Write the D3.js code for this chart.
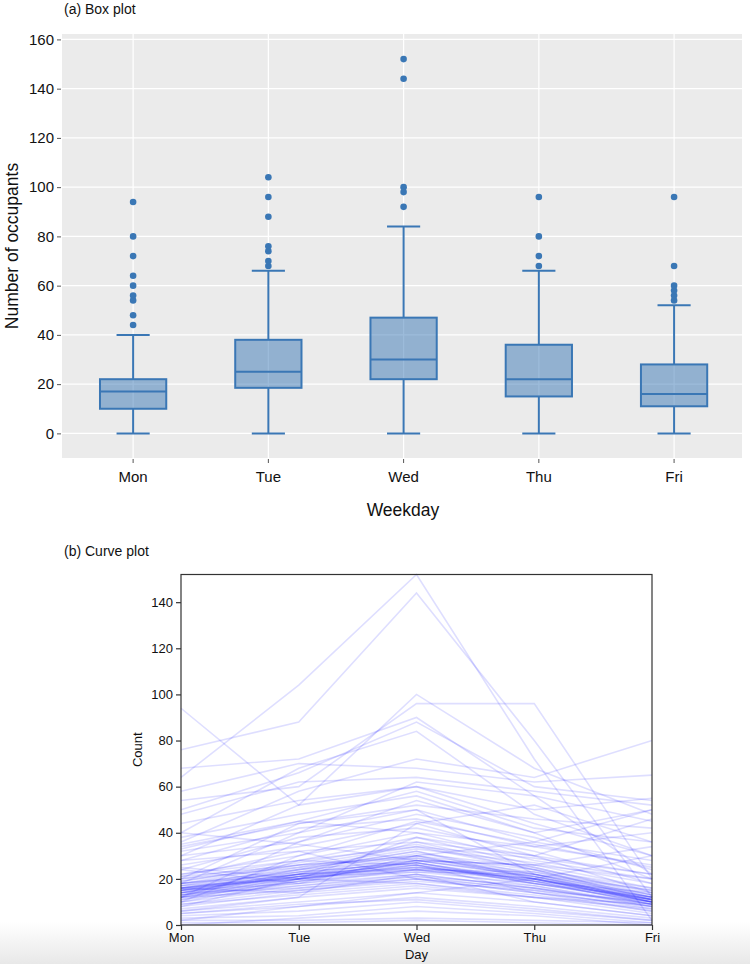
<!DOCTYPE html>
<html>
<head>
<meta charset="utf-8">
<script src="https://cdn.jsdelivr.net/npm/d3@7"></script>
<style>
html,body{margin:0;padding:0;background:#fff;}
svg{display:block;font-family:"Liberation Sans",Arial,Helvetica,sans-serif;}
</style>
</head>
<body>
<svg id="chart" width="750" height="964"></svg>
<script>
// ---------- DATA ----------
const days = ["Mon", "Tue", "Wed", "Thu", "Fri"];

// Box plot statistics
const boxQ1      = [10, 18.5, 22, 15, 11];
const boxMedian  = [17, 25, 30, 22, 16];
const boxQ3      = [22, 38, 47, 36, 28];
const whiskerLow = [0, 0, 0, 0, 0];
const whiskerHigh= [40, 66, 84, 66, 52];
const outliers = [
  [44, 48, 54, 56, 60, 64, 72, 80, 94],
  [68, 70, 74, 76, 88, 96, 104],
  [92, 98, 100, 144, 152],
  [68, 72, 80, 96],
  [54, 56, 58, 60, 68, 96]
];
const boxYTicks = [0, 20, 40, 60, 80, 100, 120, 140, 160];

// Daily counts per occupant series for panel (b): [Mon, Tue, Wed, Thu, Fri]
const dailyCounts = [
  [64, 104, 152, 72, 2],
  [76, 88, 144, 80, 12],
  [94, 52, 100, 68, 48],
  [54, 60, 96, 96, 20],
  [68, 72, 90, 56, 45],
  [50, 66, 88, 60, 54],
  [40, 68, 84, 48, 30],
  [36, 58, 72, 64, 80],
  [58, 70, 68, 62, 65],
  [48, 62, 64, 58, 52],
  [44, 54, 60, 50, 55],
  [35, 45, 58, 42, 36],
  [38, 48, 56, 40, 50],
  [34, 44, 52, 46, 42],
  [32, 40, 50, 36, 28],
  [30, 36, 48, 38, 24],
  [28, 42, 46, 34, 40],
  [26, 34, 44, 30, 22],
  [24, 38, 42, 32, 18],
  [22, 30, 40, 28, 20],
  [20, 28, 38, 26, 16],
  [21, 32, 36, 30, 14],
  [19, 26, 34, 24, 12],
  [18, 24, 32, 22, 15],
  [17, 25, 30, 20, 11],
  [16, 22, 28, 21, 10],
  [15, 21, 27, 19, 9],
  [14, 20, 26, 18, 10],
  [13, 22, 25, 20, 12],
  [12, 18, 24, 17, 8],
  [11, 17, 22, 16, 9],
  [10, 16, 21, 15, 7],
  [9, 15, 20, 14, 8],
  [8, 14, 18, 13, 6],
  [7, 12, 16, 12, 5],
  [6, 10, 14, 10, 4],
  [5, 8, 12, 8, 3],
  [4, 6, 10, 6, 2],
  [3, 4, 8, 5, 1],
  [2, 2, 3, 2, 1],
  [1, 1, 2, 1, 0],
  [0, 3, 6, 4, 0],
  [15, 24, 28, 22, 13],
  [14, 22, 30, 24, 11],
  [16, 20, 26, 18, 12],
  [13, 19, 24, 20, 10],
  [12, 21, 27, 19, 14],
  [18, 26, 29, 23, 15],
  [17, 23, 31, 25, 13],
  [15, 18, 22, 16, 9],
  [11, 20, 25, 21, 11],
  [20, 25, 33, 27, 18],
  [19, 27, 35, 24, 16],
  [14, 16, 20, 14, 8],
  [12, 15, 19, 15, 10],
  [16, 21, 23, 22, 12],
  [10, 19, 28, 26, 20],
  [18, 22, 26, 19, 11],
  [13, 17, 21, 17, 9],
  [17, 20, 24, 23, 13],
  [21, 26, 30, 21, 12],
  [14, 23, 27, 18, 10],
  [9, 13, 17, 12, 7],
  [22, 28, 34, 29, 22],
  [16, 24, 32, 20, 11],
  [15, 22, 36, 25, 14],
  [33, 45, 40, 34, 26],
  [30, 52, 60, 44, 30],
  [10, 30, 45, 35, 25],
  [8, 20, 38, 30, 46],
  [12, 36, 54, 40, 20],
  [20, 44, 50, 22, 10],
  [40, 35, 28, 26, 34],
  [6, 12, 44, 52, 36],
  [24, 18, 30, 36, 50],
  [2, 8, 14, 20, 30],
  [28, 32, 20, 16, 8],
  [5, 9, 11, 7, 2],
  [18, 40, 62, 56, 22],
  [12, 28, 26, 14, 6],
  [16, 14, 22, 10, 4],
  [25, 20, 18, 12, 9],
  [15, 21, 25, 20, 10],
  [13, 20, 28, 21, 11],
  [16, 22, 24, 19, 9],
  [14, 21, 29, 22, 12],
  [18, 23, 27, 20, 10],
  [12, 19, 23, 18, 11]
];
const curveYTicks = [0, 20, 40, 60, 80, 100, 120, 140];

// ---------- DRAW ----------
const svg = d3.select("#chart");
const boxColor = "#3a77b5";

// bottom gradient (page shading)
const defs = svg.append("defs");
const grad = defs.append("linearGradient").attr("id", "shade").attr("x1", 0).attr("y1", 0).attr("x2", 0).attr("y2", 1);
grad.append("stop").attr("offset", "0%").attr("stop-color", "#ffffff");
grad.append("stop").attr("offset", "100%").attr("stop-color", "#e8e8e8");
svg.append("rect").attr("x", 0).attr("y", 922).attr("width", 750).attr("height", 42).attr("fill", "url(#shade)");

// ===== Panel (a) =====
const A = {left: 62, right: 742, top: 34, bottom: 458};
const xA = d3.scaleBand().domain(days).range([65.5, 741.7]);
const yA = d3.scaleLinear().domain([-10, 162.2]).range([A.bottom, A.top]);

svg.append("text").attr("x", 64).attr("y", 14).attr("font-size", 14).attr("fill", "#111").text("(a) Box plot");

const gA = svg.append("g");
gA.append("rect").attr("x", A.left).attr("y", A.top).attr("width", A.right - A.left).attr("height", A.bottom - A.top).attr("fill", "#ebebeb");

// grid
gA.selectAll(".hg").data(boxYTicks).join("line")
  .attr("x1", A.left).attr("x2", A.right)
  .attr("y1", d => yA(d)).attr("y2", d => yA(d))
  .attr("stroke", "#fff").attr("stroke-width", 1.2);
gA.selectAll(".vg").data(days).join("line")
  .attr("x1", d => xA(d) + xA.bandwidth() / 2).attr("x2", d => xA(d) + xA.bandwidth() / 2)
  .attr("y1", A.top).attr("y2", A.bottom)
  .attr("stroke", "#fff").attr("stroke-width", 1.2);

// axes
const yAxisA = d3.axisLeft(yA).tickValues(boxYTicks).tickSize(4).tickPadding(3);
const yAxG = svg.append("g").attr("transform", `translate(${A.left - 1},0)`).call(yAxisA);
yAxG.select(".domain").remove();
yAxG.selectAll("line").attr("stroke", "#555");
yAxG.selectAll("text").attr("font-size", 15).attr("fill", "#111").attr("font-family", "Liberation Sans, Arial, sans-serif");

const xAxisA = d3.axisBottom(xA).tickSize(4).tickPadding(8);
const xAxG = svg.append("g").attr("transform", `translate(0,${A.bottom + 1})`).call(xAxisA);
xAxG.select(".domain").remove();
xAxG.selectAll("line").attr("stroke", "#555");
xAxG.selectAll("text").attr("font-size", 15).attr("fill", "#111").attr("font-family", "Liberation Sans, Arial, sans-serif");

svg.append("text").attr("x", 403).attr("y", 516).attr("text-anchor", "middle").attr("font-size", 17.5).attr("fill", "#111").text("Weekday");
svg.append("text").attr("transform", "translate(18,246) rotate(-90)").attr("text-anchor", "middle").attr("font-size", 17.5).attr("fill", "#111").text("Number of occupants");

// boxes
const boxW = xA.bandwidth() * 0.49;
const capW = boxW / 2;
days.forEach((d, i) => {
  const cx = xA(d) + xA.bandwidth() / 2;
  const g = gA.append("g");
  g.append("line").attr("x1", cx).attr("x2", cx).attr("y1", yA(whiskerLow[i])).attr("y2", yA(boxQ1[i]))
    .attr("stroke", boxColor).attr("stroke-width", 2);
  g.append("line").attr("x1", cx).attr("x2", cx).attr("y1", yA(boxQ3[i])).attr("y2", yA(whiskerHigh[i]))
    .attr("stroke", boxColor).attr("stroke-width", 2);
  g.append("line").attr("x1", cx - capW / 2).attr("x2", cx + capW / 2).attr("y1", yA(whiskerLow[i])).attr("y2", yA(whiskerLow[i]))
    .attr("stroke", boxColor).attr("stroke-width", 2);
  g.append("line").attr("x1", cx - capW / 2).attr("x2", cx + capW / 2).attr("y1", yA(whiskerHigh[i])).attr("y2", yA(whiskerHigh[i]))
    .attr("stroke", boxColor).attr("stroke-width", 2);
  g.append("rect").attr("x", cx - boxW / 2).attr("width", boxW)
    .attr("y", yA(boxQ3[i])).attr("height", yA(boxQ1[i]) - yA(boxQ3[i]))
    .attr("fill", boxColor).attr("fill-opacity", 0.5).attr("stroke", boxColor).attr("stroke-width", 2);
  g.append("line").attr("x1", cx - boxW / 2).attr("x2", cx + boxW / 2).attr("y1", yA(boxMedian[i])).attr("y2", yA(boxMedian[i]))
    .attr("stroke", boxColor).attr("stroke-width", 2);
  g.selectAll("circle").data(outliers[i]).join("circle")
    .attr("cx", cx).attr("cy", v => yA(v)).attr("r", 3.3).attr("fill", boxColor);
});

// ===== Panel (b) =====
const B = {left: 181, right: 652, top: 574.5, bottom: 925};
const xB = d3.scalePoint().domain(days).range([B.left, B.right]);
const yB = d3.scaleLinear().domain([0, 152]).range([B.bottom, B.top]);

svg.append("text").attr("x", 64).attr("y", 556).attr("font-size", 14).attr("fill", "#111").text("(b) Curve plot");

svg.append("rect").attr("x", B.left).attr("y", B.top).attr("width", B.right - B.left).attr("height", B.bottom - B.top).attr("fill", "#fff");

const line = d3.line().x((v, i) => xB(days[i])).y(v => yB(v));
const gB = svg.append("g");
gB.selectAll("path").data(dailyCounts).join("path")
  .attr("d", line).attr("fill", "none")
  .attr("stroke", "#0000ff").attr("stroke-opacity", 0.13).attr("stroke-width", 1.6);

svg.append("rect").attr("x", B.left).attr("y", B.top).attr("width", B.right - B.left).attr("height", B.bottom - B.top)
  .attr("fill", "none").attr("stroke", "#333").attr("stroke-width", 1.2);

const yAxisB = d3.axisLeft(yB).tickValues(curveYTicks).tickSize(5).tickPadding(3);
const yBG = svg.append("g").attr("transform", `translate(${B.left},0)`).call(yAxisB);
yBG.select(".domain").remove();
yBG.selectAll("line").attr("stroke", "#333").attr("stroke-width", 1.2);
yBG.selectAll("text").attr("font-size", 13).attr("fill", "#111").attr("font-family", "Liberation Sans, Arial, sans-serif");

const xAxisB = d3.axisBottom(xB).tickSize(5).tickPadding(3);
const xBG = svg.append("g").attr("transform", `translate(0,${B.bottom})`).call(xAxisB);
xBG.select(".domain").remove();
xBG.selectAll("line").attr("stroke", "#333").attr("stroke-width", 1.2);
xBG.selectAll("text").attr("font-size", 13).attr("fill", "#111").attr("font-family", "Liberation Sans, Arial, sans-serif");

svg.append("text").attr("x", (B.left + B.right) / 2).attr("y", 959).attr("text-anchor", "middle").attr("font-size", 13).attr("fill", "#111").text("Day");
svg.append("text").attr("transform", `translate(142,${(B.top + B.bottom) / 2}) rotate(-90)`).attr("text-anchor", "middle").attr("font-size", 13).attr("fill", "#111").text("Count");
</script>
</body>
</html>
